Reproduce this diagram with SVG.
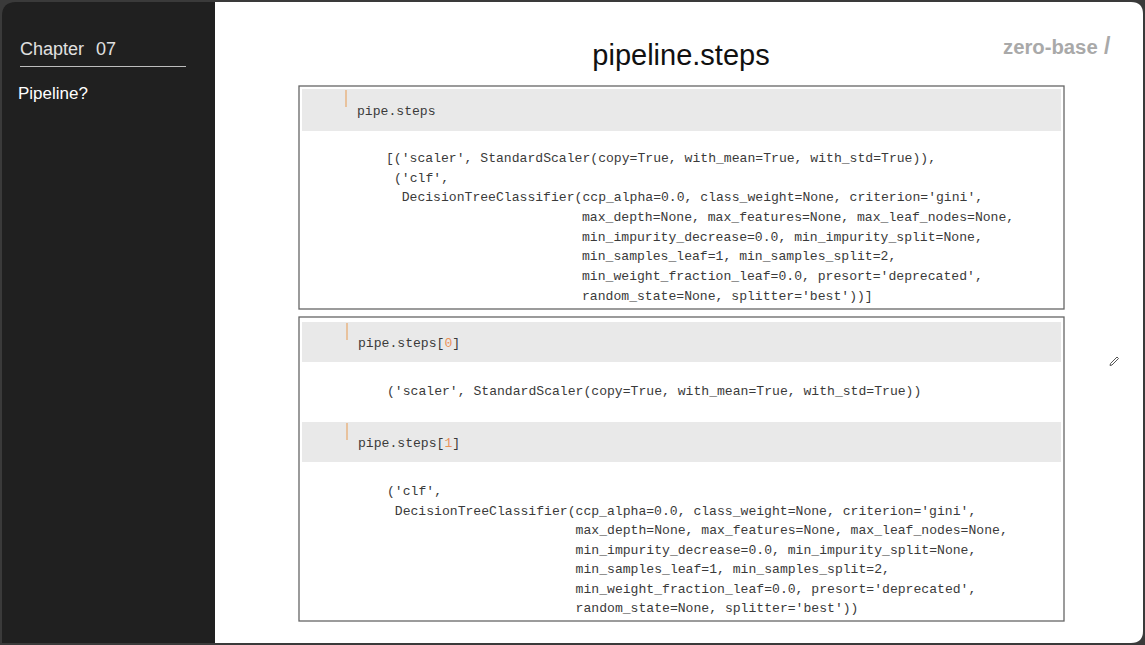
<svg xmlns="http://www.w3.org/2000/svg" width="1145" height="645" viewBox="0 0 1145 645">
<style>
.code{font-family:"Liberation Mono","DejaVu Sans Mono",monospace;font-size:13.1px;fill:#3a3a3a}
.num{fill:#e8925a}
.band{fill:#e9e9e9}
.box{fill:#ffffff;stroke:#666666;stroke-width:1.3}
.cur{stroke:#e8b88a;stroke-width:1.6}
</style>
<rect x="0" y="0" width="1145" height="645" fill="#3a3a3a"/>
<g id="sidebar">
<path d="M2 16 Q2 2 16 2 L216 2 L216 643 L2 643 Z" fill="#202020"/>
<text x="20" y="55" font-family="Liberation Sans,Arial,sans-serif" font-size="18" fill="#e0e0e0">Chapter<tspan x="96">07</tspan></text>
<line x1="20" y1="66.5" x2="186" y2="66.5" stroke="#bdbdbd" stroke-width="1.2"/>
<text x="18" y="99" font-family="Liberation Sans,Arial,sans-serif" font-size="17" fill="#ffffff">Pipeline?</text>
</g>
<g id="panel">
<path d="M215 2 L1131 2 Q1143 2 1143 14 L1143 631 Q1143 643 1131 643 L215 643 Z" fill="#ffffff"/>
<text x="681" y="65" text-anchor="middle" font-family="Liberation Sans,Arial,sans-serif" font-size="29" fill="#111111">pipeline.steps</text>
<text x="1003" y="54" font-family="Liberation Sans,Arial,sans-serif" font-weight="bold" font-size="20.3" fill="#a9a9a9">zero-base<tspan x="1104" font-size="23">/</tspan></text>
<path d="M1110.5 363.5 L1117 357 L1118.5 358.5 L1112 365 L1110 365.5 Z" fill="none" stroke="#555555" stroke-width="1"/>
</g>
<g id="cell1">
<rect class="box" x="299" y="86" width="765" height="223"/>
<rect class="band" x="302" y="89" width="759" height="42"/>
<line class="cur" x1="346" y1="90" x2="346" y2="107"/>
<text class="code" x="357" y="115">pipe.steps</text>
<text class="code" x="386" y="162">[('scaler', StandardScaler(copy=True, with_mean=True, with_std=True)),</text>
<text class="code" x="394" y="181.5">('clf',</text>
<text class="code" x="401.7" y="201">DecisionTreeClassifier(ccp_alpha=0.0, class_weight=None, criterion='gini',</text>
<text class="code" x="582" y="221">max_depth=None, max_features=None, max_leaf_nodes=None,</text>
<text class="code" x="582" y="240.5">min_impurity_decrease=0.0, min_impurity_split=None,</text>
<text class="code" x="582" y="260">min_samples_leaf=1, min_samples_split=2,</text>
<text class="code" x="582" y="280">min_weight_fraction_leaf=0.0, presort='deprecated',</text>
<text class="code" x="582" y="299.5">random_state=None, splitter='best'))]</text>
</g>
<g id="cell2">
<rect class="box" x="299" y="317" width="765" height="304"/>
<rect class="band" x="302" y="322" width="759" height="40"/>
<line class="cur" x1="347" y1="323" x2="347" y2="340"/>
<text class="code" x="358" y="347">pipe.steps[<tspan class="num">0</tspan>]</text>
<text class="code" x="387" y="395">('scaler', StandardScaler(copy=True, with_mean=True, with_std=True))</text>
<rect class="band" x="302" y="422" width="759" height="40"/>
<line class="cur" x1="347" y1="423" x2="347" y2="440"/>
<text class="code" x="358" y="447">pipe.steps[<tspan class="num">1</tspan>]</text>
<text class="code" x="387" y="495">('clf',</text>
<text class="code" x="394.8" y="514.5">DecisionTreeClassifier(ccp_alpha=0.0, class_weight=None, criterion='gini',</text>
<text class="code" x="575.6" y="534">max_depth=None, max_features=None, max_leaf_nodes=None,</text>
<text class="code" x="575.6" y="553.5">min_impurity_decrease=0.0, min_impurity_split=None,</text>
<text class="code" x="575.6" y="573">min_samples_leaf=1, min_samples_split=2,</text>
<text class="code" x="575.6" y="592.5">min_weight_fraction_leaf=0.0, presort='deprecated',</text>
<text class="code" x="575.6" y="612">random_state=None, splitter='best'))</text>
</g>
</svg>
